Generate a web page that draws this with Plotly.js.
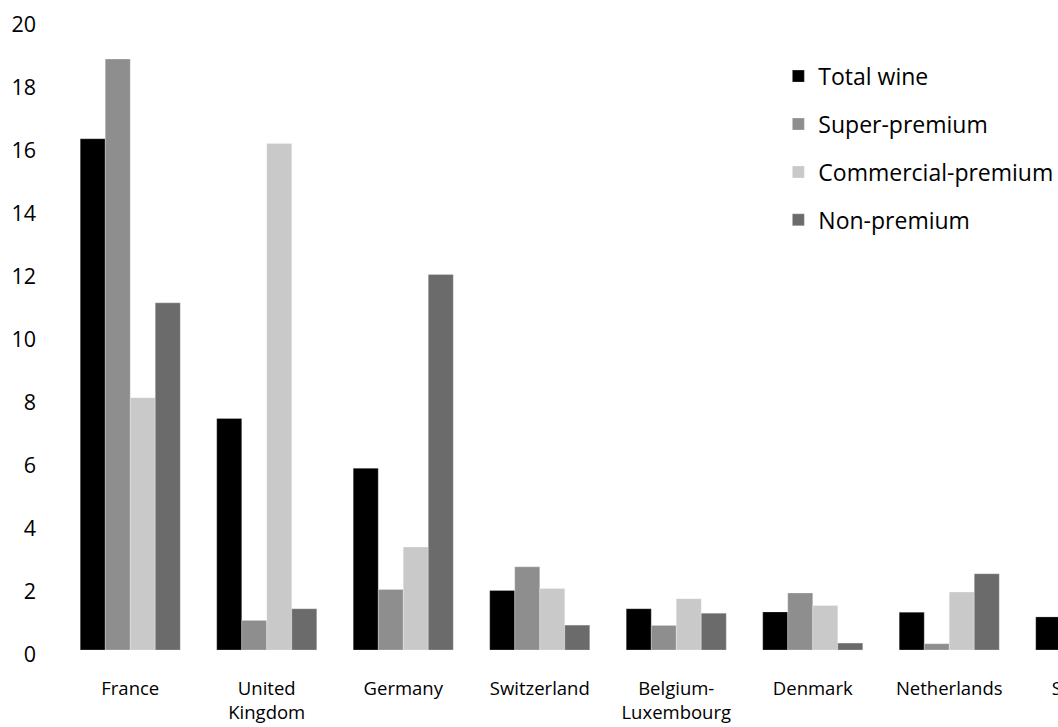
<!DOCTYPE html>
<html>
<head>
<meta charset="utf-8">
<script src="https://cdn.plot.ly/plotly-3.0.1.min.js"></script>
<style>
html,body{margin:0;padding:0;overflow:hidden;background:#fff;width:1058px;height:727px;}
#chart{width:1160px;height:727px;}
</style>
</head>
<body>
<div id="chart"></div>
<script>
const categories = ["France", "United<br>Kingdom", "Germany", "Switzerland", "Belgium-<br>Luxembourg", "Denmark", "Netherlands", "Sweden"];
const totalWine = [16.23, 7.35, 5.77, 1.89, 1.31, 1.21, 1.20, 1.05];
const superPremium = [18.76, 0.94, 1.92, 2.64, 0.78, 1.81, 0.20, null];
const commercialPremium = [8.01, 16.08, 3.27, 1.95, 1.63, 1.41, 1.84, null];
const nonPremium = [11.02, 1.31, 11.92, 0.79, 1.17, 0.22, 2.42, null];
const yTicks = [0, 2, 4, 6, 8, 10, 12, 14, 16, 18, 20];

const FONT = "Open Sans, Noto Sans, sans-serif";
const series = [
  {name: "Total wine", y: totalWine, color: "#000000"},
  {name: "Super-premium", y: superPremium, color: "#8e8e8e"},
  {name: "Commercial-premium", y: commercialPremium, color: "#c9c9c9"},
  {name: "Non-premium", y: nonPremium, color: "#6b6b6b"}
];
const data = series.map((s, i) => ({
  type: "bar",
  name: s.name,
  x: categories,
  y: s.y,
  legendgroup: "g" + i,
  marker: {color: s.color, line: {color: "rgba(255,255,255,0.5)", width: 0.5}},
  hoverinfo: "x+y+name"
}));

const layout = {
  width: 1160,
  height: 727,
  margin: {l: 62.25, r: 5.75, t: 19.5, b: 76.5},
  paper_bgcolor: "#ffffff",
  plot_bgcolor: "#ffffff",
  font: {family: FONT, color: "#000000"},
  barmode: "group",
  bargap: 0.267,
  bargroupgap: 0,
  showlegend: true,
  legend: {
    x: 0.656, y: 0.945, xanchor: "left", yanchor: "top",
    font: {family: FONT, size: 23, color: "#000"},
    tracegroupgap: 15,
    bgcolor: "rgba(0,0,0,0)",
    borderwidth: 0
  },
  xaxis: {
    type: "category",
    range: [-0.5, 7.5],
    showline: false, showgrid: false, zeroline: false,
    ticks: "",
    tickfont: {family: FONT, size: 18.5, color: "#000"},
    ticklabelstandoff: 25,
    fixedrange: true
  },
  yaxis: {
    range: [0, 20],
    tickvals: yTicks,
    ticktext: yTicks.map(String),
    showline: false, showgrid: false, zeroline: false,
    ticks: "",
    tickfont: {family: FONT, size: 21.5, color: "#000"},
    ticklabelstandoff: 25,
    ticklabelshift: 4,
    fixedrange: true
  }
};

Plotly.newPlot("chart", data, layout, {displayModeBar: false, staticPlot: true});
</script>
</body>
</html>
